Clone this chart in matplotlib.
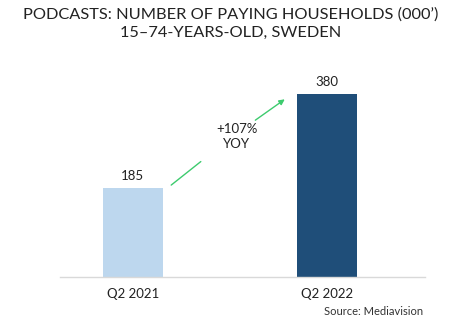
import matplotlib.pyplot as plt

plt.rcParams['font.family'] = ['Lato', 'DejaVu Sans']

categories = ["Q2 2021", "Q2 2022"]
households = [185, 380]
growth_label = "+107%\nYOY"
title = "PODCASTS: NUMBER OF PAYING HOUSEHOLDS (000\u2019)\n15\u201374-YEARS-OLD, SWEDEN"
source = "Source: Mediavision"

colors = ["#BDD7EE", "#1F4E79"]

fig = plt.figure(figsize=(4.61, 3.25), dpi=100)
ax = fig.add_axes([0.130, 0.148, 0.792, 0.667])

x = list(range(len(categories)))
ax.bar(x, households, width=0.31, color=colors, zorder=2)
for xi, v in zip(x, households):
    ax.text(xi, v + 12, str(v), ha='center', va='bottom', fontsize=9.5, color='#222222')

ax.set_xlim(-0.376, 1.505)
ax.set_ylim(0, 450)
ax.set_xticks(x)
ax.set_xticklabels(categories, fontsize=9.5, color='#222222')
ax.tick_params(axis='x', length=0, pad=8)
ax.set_yticks([])
for s in ['top', 'right', 'left']:
    ax.spines[s].set_visible(False)
ax.spines['bottom'].set_color('#D9D9D9')
ax.spines['bottom'].set_linewidth(1)

# growth arrow, split around the label
green = '#3DCB6E'
ax.annotate('', xy=(0.361, 243), xytext=(0.186, 187),
            arrowprops=dict(arrowstyle='-', color=green, lw=1))
ax.annotate('', xy=(0.794, 372), xytext=(0.619, 322),
            arrowprops=dict(arrowstyle='-|>', color=green, lw=1, mutation_scale=8))
ax.text(0.536, 291, growth_label, ha='center', va='center', fontsize=9.5,
        color='#222222', linespacing=1.25)

fig.text(0.5, 0.978, title, ha='center', va='top', fontsize=11.8,
         color='#222222', linespacing=1.4)
fig.text(0.918, 0.042, source, ha='right', va='center', fontsize=8, color='#333333')

fig.savefig('out.png', dpi=100)
